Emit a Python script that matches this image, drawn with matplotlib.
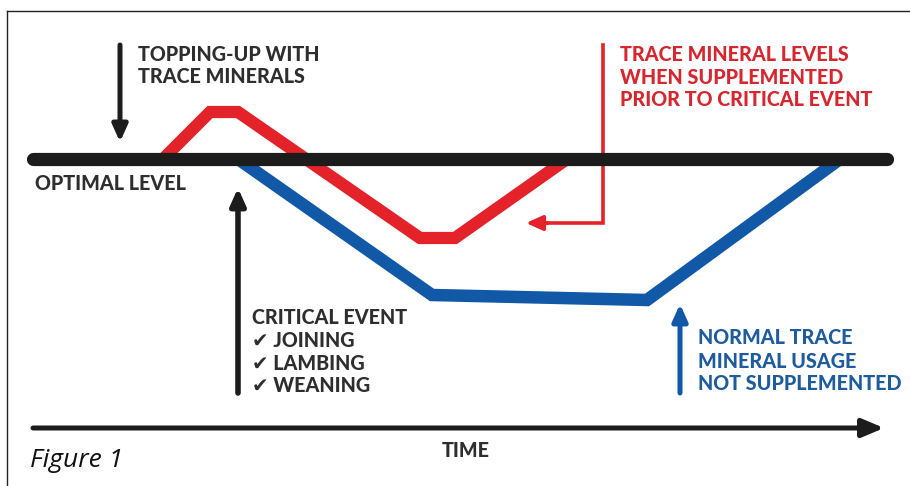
import matplotlib
matplotlib.use('Agg')
import matplotlib.pyplot as plt

# levels are in "height units" above the time axis; optimal level is fixed
optimal_level = 327
optimal_span = [33, 887]

# supplemented (red) trace mineral level over time
red_time = [163, 210, 238, 420, 455, 567]
red_level = [327, 374, 374, 248, 248, 327]

# not supplemented (blue) trace mineral level over time
blue_time = [238, 432, 647, 840]
blue_level = [327, 191, 186, 327]

topping_lines = ['TOPPING-UP WITH', 'TRACE MINERALS']
red_lines = ['TRACE MINERAL LEVELS', 'WHEN SUPPLEMENTED', 'PRIOR TO CRITICAL EVENT']
blue_lines = ['NORMAL TRACE', 'MINERAL USAGE', 'NOT SUPPLEMENTED']
event_lines = ['CRITICAL EVENT', '\u2714 JOINING', '\u2714 LAMBING', '\u2714 WEANING']

RED = '#e3222a'
BLUE = '#1159a6'
DARK = '#1c1c1c'
TXT = '#2e2e2e'
RED_TXT = '#d6262e'
BLUE_TXT = '#1e5c9e'

plt.rcParams['font.family'] = ['Lato', 'DejaVu Sans']

fig = plt.figure(figsize=(9.1, 4.86), dpi=100)
ax = fig.add_axes([0, 0, 1, 1])
ax.set_xlim(0, 910)
ax.set_ylim(0, 486)
ax.axis('off')

# frame (top + left only visible)
ax.plot([7, 910], [475, 475], color='#222222', lw=1.0)
ax.plot([7, 7], [0, 475], color='#222222', lw=1.0)

# series
ax.plot(red_time, red_level, color=RED, lw=8.8, solid_joinstyle='miter',
        solid_capstyle='butt', zorder=2)
ax.plot(blue_time, blue_level, color=BLUE, lw=9.0, solid_joinstyle='miter',
        solid_capstyle='butt', zorder=2)
ax.plot(optimal_span, [optimal_level, optimal_level], color=DARK, lw=9.5,
        solid_capstyle='round', zorder=3)

def arrow(x0, y0, x1, y1, color, lw, hw, hl):
    ax.annotate('', xy=(x1, y1), xytext=(x0, y0),
                arrowprops=dict(arrowstyle='-|>,head_width=%s,head_length=%s' % (hw, hl),
                                lw=lw, color=color, shrinkA=0, shrinkB=0))

# topping-up arrow
arrow(120, 441, 120, 344, DARK, 3.6, 0.45, 1.0)
# critical event arrow
arrow(238, 93, 238, 298, DARK, 4.0, 0.45, 1.0)
# normal usage arrow
arrow(680, 93, 680, 182, BLUE, 3.6, 0.45, 1.0)
# red bracket arrow
ax.plot([603, 603, 545], [441, 263, 263], color=RED, lw=2.6,
        solid_joinstyle='miter')
arrow(548, 263, 526, 263, RED, 2.6, 0.45, 1.0)
# time axis
arrow(33, 58, 884, 58, DARK, 3.6, 0.55, 1.3)

fs = 14.2
fw = 900
for i, s in enumerate(topping_lines):
    ax.text(138, 431 - i * 22, s, color=TXT, fontsize=fs, fontweight=fw,
            va='center', ha='left')
for i, s in enumerate(red_lines):
    ax.text(620, 431 - i * 22.5, s, color=RED_TXT, fontsize=fs, fontweight=fw,
            va='center', ha='left')
for i, s in enumerate(blue_lines):
    ax.text(698, 148 - i * 23, s, color=BLUE_TXT, fontsize=fs, fontweight=fw,
            va='center', ha='left')
for i, s in enumerate(event_lines):
    ax.text(252, 168 - i * 22.5, s, color=TXT, fontsize=fs, fontweight=fw,
            va='center', ha='left')

ax.text(35, 303, 'OPTIMAL LEVEL', color=TXT, fontsize=fs, fontweight=fw,
        va='center', ha='left')
ax.text(466, 36, 'TIME', color=TXT, fontsize=fs, fontweight=fw,
        va='center', ha='center')
ax.text(30, 26, 'Figure 1', color='#111111', fontsize=19, style='italic',
        family=['Open Sans', 'DejaVu Sans'], va='center', ha='left')

fig.savefig('out.png', dpi=100)
